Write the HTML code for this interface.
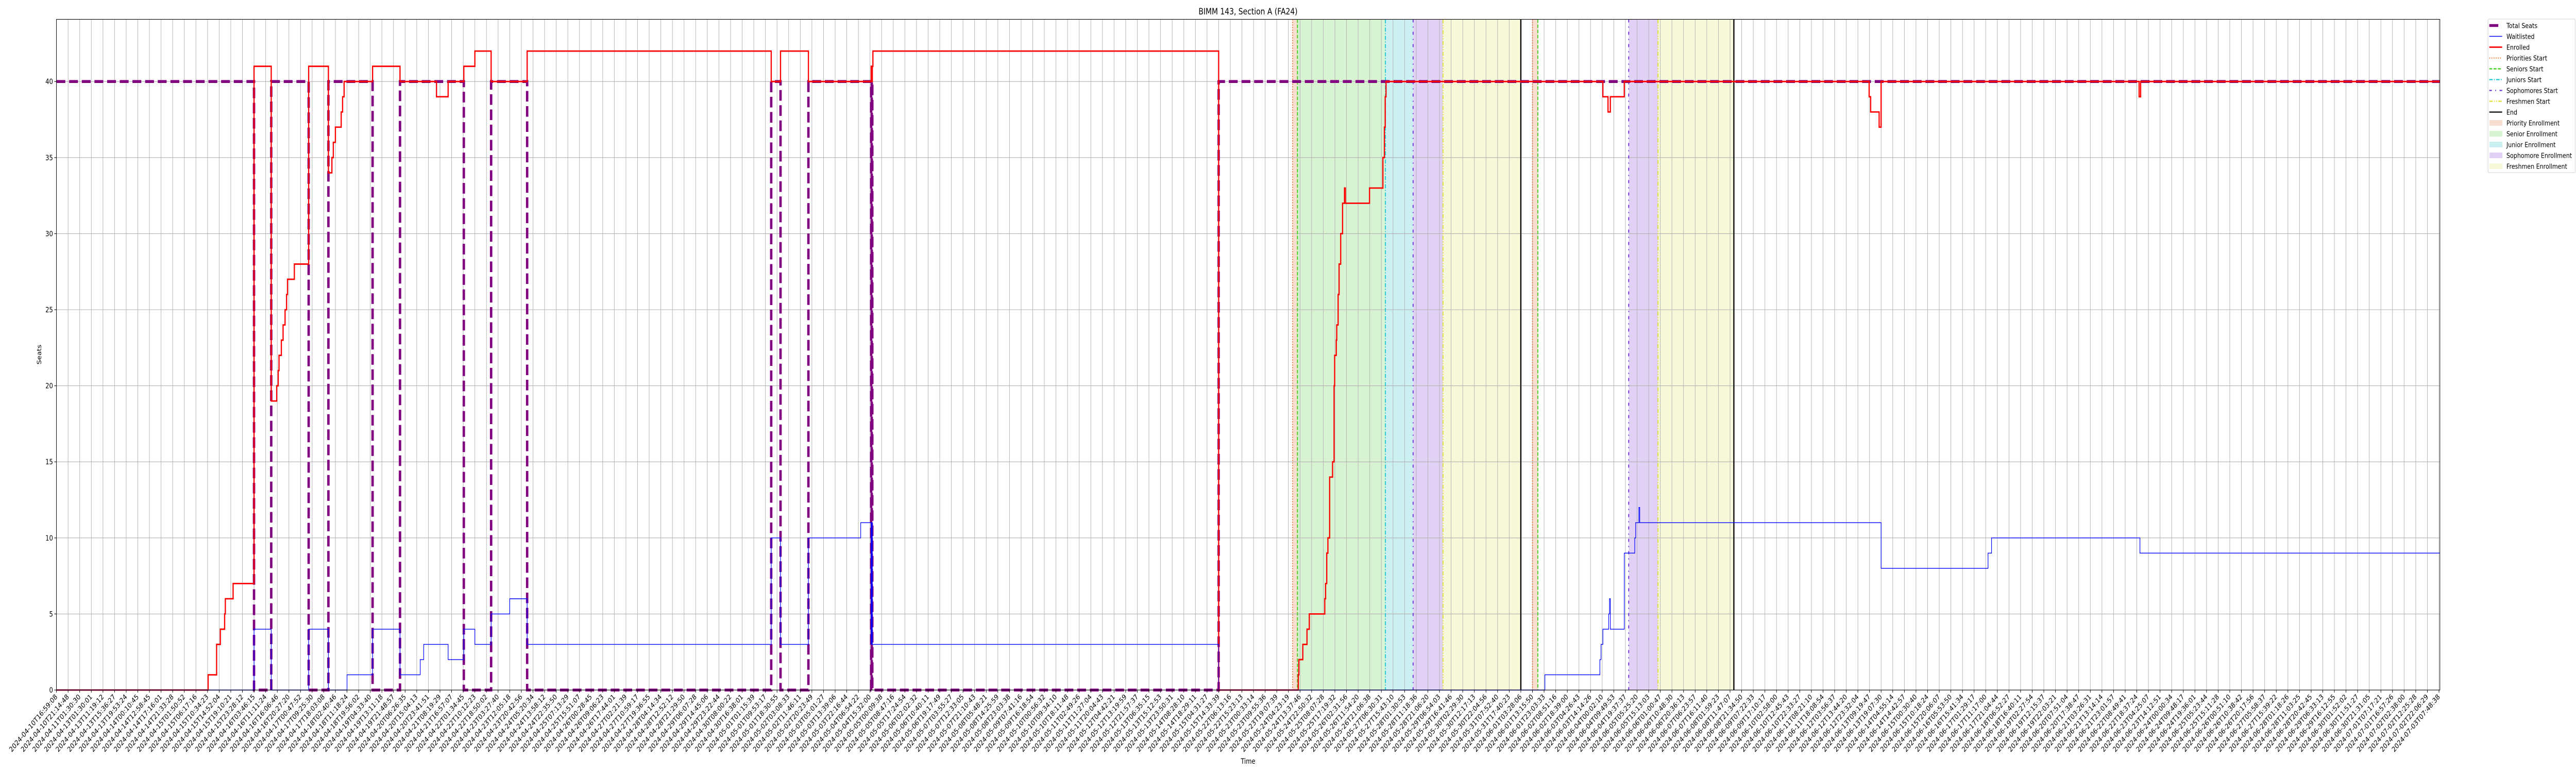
<!DOCTYPE html>
<html>
<head>
<meta charset="utf-8">
<style>
html,body{margin:0;padding:0;background:#fff;width:100vw;height:100vh;overflow:hidden;}
svg{display:block;overflow:hidden;width:100vw;height:100vh;font-family:"DejaVu Sans","Liberation Sans",sans-serif;}
</style>
</head>
<body>
<svg id="chart" width="100%" height="100%" viewBox="0 0 6000 1500" preserveAspectRatio="none" xmlns="http://www.w3.org/2000/svg">
  <rect x="0" y="0" width="6000" height="1500" fill="#fff"/>
  <g id="spans"></g>
  <g id="grid"></g>
  <g id="events"></g>
  <g id="series"></g>
  <g id="axes"></g>
  <text x="2907" y="28" text-anchor="middle" font-size="16.7">BIMM 143, Section A (FA24)</text>
  <text x="2907" y="1482" text-anchor="middle" font-size="13.9">Time</text>
  <text x="96" y="688" text-anchor="middle" font-size="13.9" transform="rotate(-90 96 688)">Seats</text>
  <g id="legend"></g>
</svg>
<script>
// ---- data (x positions in tick-index units, values in seats) ----
const enrolledT = [0,13.05,13.78,14.1,14.47,14.53,15.2,17.0,18.48,18.95,19.08,19.15,19.35,19.5,19.67,19.8,19.88,20.47,21.7,23.4,23.7,23.82,24.0,24.5,24.62,24.75,27.2,29.56,32.7,33.7,35.05,36.0,37.4,40.5,61.5,62.3,64.7,70.1,70.15,70.2,70.25,100.0,106.85,106.9,107.24,107.6,107.8,109.13,109.2,109.3,109.4,109.55,109.8,109.93,109.98,110.12,110.16,110.28,110.36,110.5,110.66,110.83,110.9,112.98,114.13,114.26,114.33,114.4,133.06,133.5,133.7,134.9,155.97,156.1,156.83,157.0,179.2,179.33];
const enrolledV = [0,1,3,4,5,6,7,41,19,20,21,22,23,24,25,26,27,28,41,34,35,36,37,38,39,40,41,40,39,40,41,42,40,42,40,42,40,41,40,41,42,0,1,2,3,4,5,6,7,9,10,14,15,20,22,23,24,26,28,30,32,33,32,33,35,37,39,40,39,38,39,40,39,38,37,40,39,40];
const waitT = [0,17.0,18.48,21.7,23.4,25.0,27.2,29.56,31.3,31.6,33.7,35.05,36.0,37.4,39.0,40.5,61.5,62.3,64.7,69.2,70.1,70.15,70.2,70.25,100.0,128.07,132.8,132.9,133.06,133.56,133.63,133.7,134.9,135.8,135.88,136.16,136.23,157.0,166.2,166.5,179.27];
const waitV = [0,4,0,4,0,1,4,1,2,3,2,4,3,5,6,3,10,3,10,11,3,11,3,3,0,1,2,3,4,5,6,4,9,10,11,12,11,8,9,10,9];
const seatsT = [0,17.0,18.48,21.7,23.4,27.2,29.56,35.05,37.4,40.5,61.5,62.3,64.7,70.1,70.15,70.2,100.0];
const seatsV = [40,0,40,0,40,0,40,0,40,0,40,0,40,0,40,0,40];
const spanStart = [106.36,106.78,114.35,116.73,119.3,127.0,135.28,137.8];
const spanEnd   = [106.78,114.35,116.73,119.3,126.0,127.46,137.8,144.33];
const spanKind  = ["priority","senior","junior","sophomore","freshman","priority","sophomore","freshman"];
const eventT    = [106.36,106.78,114.35,116.73,119.3,126.0,127.0,127.46,135.28,137.8,144.33];
const eventKind = ["priority","senior","junior","sophomore","freshman","end","priority","senior","sophomore","freshman","end"];
const yTicks = [0,5,10,15,20,25,30,35,40];
const knownLabels = {
0:"2024-04-10T16:59:08",1:"2024-04-10T21:14:48",2:"2024-04-11T01:30:30",3:"2024-04-13T01:30:01",
4:"2024-04-13T11:19:12",5:"2024-04-13T15:36:27",6:"2024-04-13T19:53:24",7:"2024-04-14T00:10:45",
8:"2024-04-14T12:58:45",9:"2024-04-14T17:16:01",10:"2024-04-14T21:33:28",11:"2024-04-15T01:50:52",
12:"2024-04-15T06:17:16",13:"2024-04-15T10:34:23",14:"2024-04-15T14:52:04",15:"2024-04-15T19:10:21",
16:"2024-04-15T23:28:12",17:"2024-04-16T03:46:15",18:"2024-04-16T11:11:24",19:"2024-04-16T16:06:46",
20:"2024-04-16T20:27:20",21:"2024-04-17T00:47:52",
97:"2024-05-14T08:28:10",98:"2024-05-14T18:29:11",99:"2024-05-15T04:31:27",100:"2024-05-15T14:33:39",
101:"2024-05-22T06:13:16",102:"2024-05-22T15:23:13",103:"2024-05-23T00:33:14",104:"2024-05-23T09:55:36",
105:"2024-05-23T19:07:39",106:"2024-05-24T04:23:19",107:"2024-05-24T13:37:46",108:"2024-05-24T22:50:32",
109:"2024-05-25T08:07:28",110:"2024-05-25T17:19:32",111:"2024-05-26T02:31:56",112:"2024-05-26T11:54:20",
113:"2024-05-26T21:06:38",114:"2024-05-27T06:30:31",115:"2024-05-27T15:43:10",
186:"2024-06-25T15:11:28",187:"2024-06-26T00:51:10",188:"2024-06-26T10:38:42",189:"2024-06-26T20:17:56",
190:"2024-06-27T05:58:37",191:"2024-06-27T15:39:22",192:"2024-06-28T01:18:26",193:"2024-06-28T11:03:25",
194:"2024-06-28T20:42:45",195:"2024-06-29T06:33:13",196:"2024-06-29T16:12:55",197:"2024-06-30T01:52:02",
198:"2024-06-30T11:51:27",199:"2024-06-30T21:31:05",200:"2024-07-01T07:17:21",201:"2024-07-01T16:57:26",
202:"2024-07-02T02:38:00",203:"2024-07-02T12:25:28",204:"2024-07-02T22:06:29",205:"2024-07-03T07:48:38"};
const nTicks = 206;

const X0 = 131.5, X1 = 5683, YB = 1339, YT = 37.5, DX = 27.07, DY = 29.52;
const tMax = (X1 - X0) / DX;
const xs = t => X0 + t * DX;
const ys = v => YB - v * DY;
const NS = "http://www.w3.org/2000/svg";
function mk(tag, attrs, parent){ const e=document.createElementNS(NS,tag); for(const k in attrs) e.setAttribute(k,attrs[k]); parent.appendChild(e); return e; }

const spanColor = {priority:"#f8ddd1",senior:"#d8f3d1",junior:"#ccf0f2",sophomore:"#e1d2f5",freshman:"#f7f8d8"};
const evStyle = {
  priority:{c:"#f06a28",d:"2,3",w:2},
  senior:{c:"#3fcf1a",d:"7,3",w:2.2},
  junior:{c:"#1ec8d6",d:"8,3,2,3",w:2.2},
  sophomore:{c:"#6b2fd6",d:"6,8,2,8",w:2.2},
  freshman:{c:"#e0e030",d:"8,3,2,3,2,3",w:2.2},
  end:{c:"#000",d:"",w:2.8}
};

const gS = document.getElementById("spans");
for (let i=0;i<spanStart.length;i++){
  const r = mk("rect",{x:xs(spanStart[i]),y:YT,width:xs(spanEnd[i])-xs(spanStart[i]),height:YB-YT,fill:spanColor[spanKind[i]]},gS);
  
  
}

const gG = document.getElementById("grid");
for (let i=0;i<nTicks;i++){
  const l = mk("line",{x1:xs(i),x2:xs(i),y1:YT,y2:YB,stroke:"#b0b0b0","stroke-width":1.1},gG);
  
  
}
for (const v of yTicks){
  const l = mk("line",{x1:X0,x2:X1,y1:ys(v),y2:ys(v),stroke:"#b0b0b0","stroke-width":1.1},gG);
  
  
}

const gE = document.getElementById("events");
for (let i=0;i<eventT.length;i++){
  const s = evStyle[eventKind[i]];
  const l = mk("line",{x1:xs(eventT[i]),x2:xs(eventT[i]),y1:YT,y2:YB,stroke:s.c,"stroke-width":s.w},gE);
  if (s.d) l.setAttribute("stroke-dasharray", s.d);
  
  
}

function stepPath(T,V){
  let d = "M"+xs(T[0]).toFixed(2)+" "+ys(V[0]).toFixed(2);
  for (let k=1;k<T.length;k++){ d += " H"+xs(T[k]).toFixed(2)+" V"+ys(V[k]).toFixed(2); }
  d += " H"+xs(tMax).toFixed(2);
  return d;
}
const gR = document.getElementById("series");
const pSeats = mk("path",{d:stepPath(seatsT,seatsV),fill:"none",stroke:"#800080","stroke-width":5.6,"stroke-dasharray":"20.6,8.9"},gR);


const pEnr = mk("path",{d:stepPath(enrolledT,enrolledV),fill:"none",stroke:"#ff0000","stroke-width":2.8},gR);


const pWait = mk("path",{d:stepPath(waitT,waitV),fill:"none",stroke:"#0000ff","stroke-width":1.4},gR);



const gA = document.getElementById("axes");
const frame = mk("rect",{x:X0,y:YT,width:X1-X0,height:YB-YT,fill:"none",stroke:"#000","stroke-width":1.1},gA);


for (const v of yTicks){
  const t = mk("line",{x1:X0-5,x2:X0,y1:ys(v),y2:ys(v),stroke:"#000","stroke-width":1.1},gA);
  
  
  const tx = mk("text",{x:X0-8,y:ys(v)+5,"text-anchor":"end","font-size":13.9},gA);
  tx.textContent = String(v);
  
  
}
function parseL(s){ return Date.UTC(+s.slice(0,4),+s.slice(5,7)-1,+s.slice(8,10),+s.slice(11,13),+s.slice(14,16),+s.slice(17,19)); }
function p2(n){ return String(n).padStart(2,"0"); }
function fmt(ms){ const d=new Date(ms); return d.getUTCFullYear()+"-"+p2(d.getUTCMonth()+1)+"-"+p2(d.getUTCDate())+"T"+p2(d.getUTCHours())+":"+p2(d.getUTCMinutes())+":"+p2(d.getUTCSeconds()); }
const keys = Object.keys(knownLabels).map(Number).sort((a,b)=>a-b);
const tickLabels = [];
for (let i=0;i<nTicks;i++){
  if (knownLabels[i]) { tickLabels.push(knownLabels[i]); continue; }
  let a = keys.filter(k=>k<i).pop(), b = keys.find(k=>k>i);
  const ta = parseL(knownLabels[a]), tb = parseL(knownLabels[b]);
  tickLabels.push(fmt(Math.round(ta + (tb-ta)*(i-a)/(b-a))));
}
for (let i=0;i<nTicks;i++){
  const x = xs(i);
  const t = mk("line",{x1:x,x2:x,y1:YB,y2:YB+5,stroke:"#000","stroke-width":1.1},gA);
  
  
  const tx = mk("text",{x:x+3,y:YB+14,"text-anchor":"end","font-size":13.9,transform:"rotate(-45 "+(x+3)+" "+(YB+14)+")"},gA);
  tx.textContent = tickLabels[i];
  
  
}

const gL = document.getElementById("legend");
const lb = mk("rect",{x:5795,y:37,width:203,height:298,rx:2,fill:"#fff","fill-opacity":0.8,stroke:"#d0d0d0","stroke-width":1.1},gL);


const legItems = [
  {n:"Total Seats",t:"line",c:"#800080",w:5.6,d:"",x2:5819},
  {n:"Waitlisted",t:"line",c:"#0000ff",w:1.4,d:""},
  {n:"Enrolled",t:"line",c:"#ff0000",w:2.8,d:""},
  {n:"Priorities Start",t:"line",c:"#f06a28",w:2,d:"2,3"},
  {n:"Seniors Start",t:"line",c:"#3fcf1a",w:2.2,d:"7,3"},
  {n:"Juniors Start",t:"line",c:"#1ec8d6",w:2.2,d:"8,3,2,3"},
  {n:"Sophomores Start",t:"line",c:"#6b2fd6",w:2.2,d:"6,8,2,8"},
  {n:"Freshmen Start",t:"line",c:"#e0e030",w:2.2,d:"8,3,2,3,2,3"},
  {n:"End",t:"line",c:"#000",w:2.2,d:""},
  {n:"Priority Enrollment",t:"rect",c:"#f8ddd1"},
  {n:"Senior Enrollment",t:"rect",c:"#d8f3d1"},
  {n:"Junior Enrollment",t:"rect",c:"#ccf0f2"},
  {n:"Sophomore Enrollment",t:"rect",c:"#e1d2f5"},
  {n:"Freshmen Enrollment",t:"rect",c:"#f7f8d8"}
];
legItems.forEach((it,i)=>{
  const y = 49.5 + i*21;
  const g = mk("g",{},gL);
  
  
  if (it.t==="line"){
    const l = mk("line",{x1:5798,x2:it.x2||5828,y1:y,y2:y,stroke:it.c,"stroke-width":it.w},g);
    if (it.d) l.setAttribute("stroke-dasharray", it.d);
  } else {
    mk("rect",{x:5799,y:y-5,width:29,height:10,fill:it.c,stroke:it.c,"stroke-width":1},g);
  }
  const tx = mk("text",{x:5838,y:y+5,"font-size":13.3},g);
  tx.textContent = it.n;
});
</script>
</body>
</html>
